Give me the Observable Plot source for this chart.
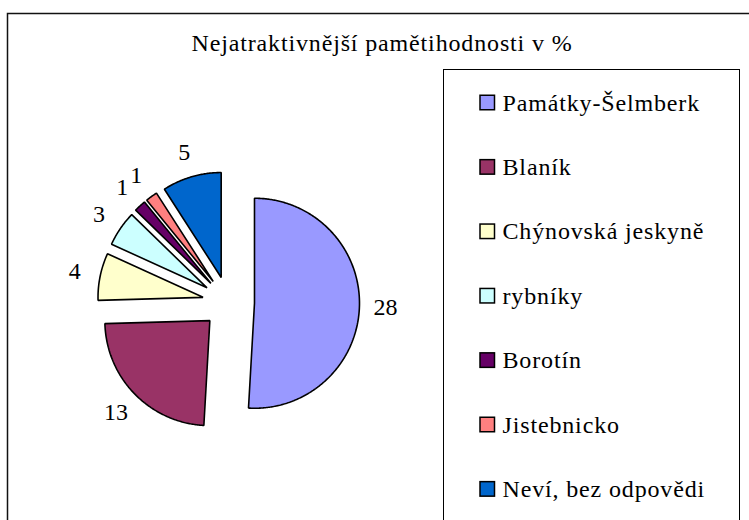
<!DOCTYPE html>
<html>
<head>
<meta charset="utf-8">
<script src="https://cdn.jsdelivr.net/npm/d3@7"></script>
<script src="https://cdn.jsdelivr.net/npm/@observablehq/plot@0.6"></script>
<style>
  html, body { margin: 0; padding: 0; background: #fff; overflow: hidden; }
  #chart svg { display: block; }
  #chart svg text { font-family: "Liberation Serif", "Times New Roman", serif !important; }
  g[aria-description="title"] text { letter-spacing: 0.85px; }
  g[aria-description="legend-text"] text { letter-spacing: 0.85px; }
</style>
</head>
<body>
<div id="chart"></div>
<script>
// ---- data ----
const names = ["Památky-Šelmberk", "Blaník", "Chýnovská jeskyně", "rybníky", "Borotín", "Jistebnicko", "Neví, bez odpovědi"];
const values = [28, 13, 4, 3, 1, 1, 5];
const colors = ["#9999FF", "#993366", "#FFFFCC", "#CCFFFF", "#660066", "#FF8080", "#0066CC"];
const titleText = "Nejatraktivnější pamětihodnosti v %";

// ---- layout ----
const W = 749, H = 520;
const pieLayout = {cx: 228, cy: 302, r: 105, explode: 26, labelR: 157};
const legendLayout = {x0: 443.5, y0: 69.5, x1: 739.5, itemY0: 102.5, step: 64.4, sqX: 480, sqSize: 14.5, textX: 502};
const font = "'Liberation Serif', 'Times New Roman', serif";

const rows = names.map((name, i) => ({name, value: values[i]}));
const arcs = d3.pie().sort(null).value(d => d.value).startAngle(0).endAngle(2 * Math.PI)(rows);

const slicePts = [];
const labels = [];
arcs.forEach(a => {
  const mid = (a.startAngle + a.endAngle) / 2;
  const tx = pieLayout.cx + pieLayout.explode * Math.sin(mid);
  const ty = pieLayout.cy - pieLayout.explode * Math.cos(mid);
  slicePts.push({name: a.data.name, x: tx, y: ty});
  const n = Math.max(2, Math.ceil((a.endAngle - a.startAngle) / 0.01));
  for (let k = 0; k <= n; k++) {
    const t = a.startAngle + (a.endAngle - a.startAngle) * k / n;
    slicePts.push({name: a.data.name, x: tx + pieLayout.r * Math.sin(t), y: ty - pieLayout.r * Math.cos(t)});
  }
  labels.push({
    text: String(a.data.value),
    x: pieLayout.cx + pieLayout.labelR * Math.sin(mid),
    y: pieLayout.cy - pieLayout.labelR * Math.cos(mid)
  });
});

const legendItems = names.map((name, i) => ({
  name,
  yc: legendLayout.itemY0 + i * legendLayout.step
}));

const plot = Plot.plot({
  width: W,
  height: H,
  margin: 0,
  style: {fontFamily: font, background: "#fff"},
  x: {domain: [0, W], range: [0, W], axis: null},
  y: {domain: [0, H], range: [0, H], axis: null},
  color: {domain: names, range: colors},
  marks: [
    // outer chart border
    Plot.rect([0], {x1: 7.5, y1: 13.5, x2: W + 20, y2: H + 20, fill: "none", stroke: "#111", strokeWidth: 1.5}),
    // title
    Plot.text([titleText], {x: 381.5, y: 42.5, text: d => d, fontSize: 24, fill: "#000", ariaDescription: "title"}),
    // pie slices
    Plot.line(slicePts, {x: "x", y: "y", z: "name", fill: "name", stroke: "#000", strokeWidth: 1.6, curve: "linear-closed", strokeLinejoin: "miter"}),
    // slice value labels
    Plot.text(labels, {x: "x", y: "y", text: "text", fontSize: 24, fill: "#000"}),
    // legend box
    Plot.rect([0], {x1: legendLayout.x0, y1: legendLayout.y0, x2: legendLayout.x1, y2: H + 20, fill: "none", stroke: "#000", strokeWidth: 1}),
    // legend swatches
    Plot.rect(legendItems, {
      x1: legendLayout.sqX, x2: legendLayout.sqX + legendLayout.sqSize,
      y1: d => d.yc - legendLayout.sqSize / 2, y2: d => d.yc + legendLayout.sqSize / 2,
      fill: "name", stroke: "#000", strokeWidth: 1.5
    }),
    // legend text
    Plot.text(legendItems, {x: legendLayout.textX, y: "yc", text: "name", textAnchor: "start", fontSize: 24, fill: "#000", ariaDescription: "legend-text"})
  ]
});

document.getElementById("chart").appendChild(plot);
</script>
</body>
</html>
